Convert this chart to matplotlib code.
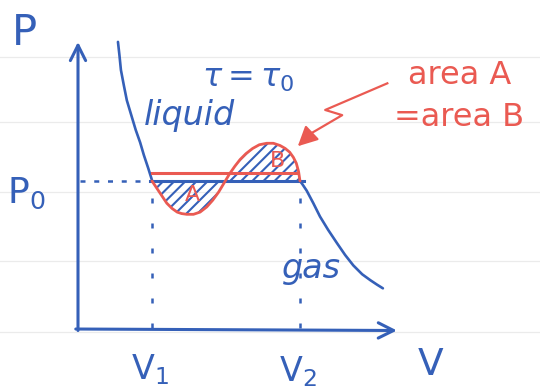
import matplotlib
matplotlib.use("Agg")
import matplotlib.pyplot as plt

BLUE = "#3560b8"
RED = "#ea5a52"
RULE = "#ebebeb"

# reference levels of the sketch (arbitrary units)
V1, V2 = 1.0, 3.0
P0 = 2.0
P_red_line = 2.11

# liquid branch (blue, steep)
V_liq = [0.54, 0.56, 0.58, 0.62, 0.66, 0.72, 0.78, 0.84, 0.89, 0.95, 1.00]
P_liq = [3.88, 3.70, 3.50, 3.29, 3.09, 2.89, 2.69, 2.52, 2.35, 2.17, 2.01]

# van der Waals loop (red)
V_loop = [1.00, 1.04, 1.08, 1.14, 1.20, 1.27, 1.34, 1.40, 1.47, 1.56, 1.65,
          1.74, 1.82, 1.90, 1.96, 2.05, 2.12, 2.19, 2.27, 2.36, 2.45, 2.55,
          2.64, 2.73, 2.80, 2.86, 2.91, 2.95, 2.98, 3.00]
P_loop = [2.00, 1.94, 1.88, 1.79, 1.70, 1.63, 1.58, 1.56, 1.55, 1.55, 1.58,
          1.65, 1.74, 1.85, 1.95, 2.10, 2.20, 2.29, 2.37, 2.44, 2.49, 2.51,
          2.51, 2.48, 2.44, 2.39, 2.32, 2.24, 2.13, 2.00]

# gas branch (blue)
V_gas = [3.00, 3.03, 3.09, 3.18, 3.27, 3.38, 3.50, 3.61, 3.72, 3.84, 3.95, 4.04, 4.12]
P_gas = [2.00, 1.96, 1.87, 1.70, 1.52, 1.34, 1.16, 1.00, 0.86, 0.74, 0.66, 0.60, 0.55]

# zig-zag pointer from the note to area B
V_ptr = [4.18, 3.34, 3.57, 3.16]
P_ptr = [3.32, 2.96, 2.89, 2.65]
ptr_tip = (2.97, 2.47)

# notebook ruling
P_rules = [3.68, 2.80, 1.85, 0.92, -0.04]

fig = plt.figure(figsize=(5.4, 3.92), dpi=100)
ax = fig.add_axes([0, 0, 1, 1])
ax.set_xlim(-1.054, 6.243)
ax.set_ylim(-0.851, 4.446)
ax.axis("off")

for p in P_rules:
    ax.axhline(p, color=RULE, lw=0.9, zorder=0)

# axes with open arrow heads
arrow = dict(arrowstyle="->,head_length=1.1,head_width=0.55", color=BLUE,
             lw=2.2, shrinkA=0, shrinkB=0)
ax.annotate("", xy=(0, 3.88), xytext=(0, -0.02), arrowprops=arrow)
ax.annotate("", xy=(4.31, -0.02), xytext=(-0.03, 0), arrowprops=arrow)

# guide lines
ax.plot([0.03, V1], [P0, P0], color=BLUE, lw=1.8, ls=(0, (2, 3.5)))
for v in (V1, V2):
    ax.plot([v, v], [0.02, 1.95], color=BLUE, lw=1.8, ls=(0, (2, 8)))

# equal-area hatching
plt.rcParams["hatch.linewidth"] = 1.5
ax.fill_between(V_loop, P_loop, P0, interpolate=True, facecolor="none",
                edgecolor=BLUE, hatch="///", lw=0, zorder=1)

# isotherm
ax.plot(V_liq, P_liq, color=BLUE, lw=1.9, solid_capstyle="round")
ax.plot(V_gas, P_gas, color=BLUE, lw=1.9, solid_capstyle="round")
ax.plot([V1 - 0.03, V2 + 0.05], [P0, P0], color=BLUE, lw=2.2)
ax.plot([V1, V2 - 0.03], [P_red_line, P_red_line], color=RED, lw=2.2)
ax.plot(V_loop, P_loop, color=RED, lw=2.0, solid_capstyle="round")

# pointer
ax.plot(V_ptr, P_ptr, color=RED, lw=1.6)
ax.annotate("", xy=ptr_tip, xytext=(V_ptr[-1], P_ptr[-1]),
            arrowprops=dict(arrowstyle="-|>,head_length=1.2,head_width=0.6",
                            color=RED, lw=1.6, shrinkA=0, shrinkB=0))

# labels
fs = dict(color=BLUE, ha="center", va="center")
ax.text(-0.72, 4.0, "P", fontsize=30, **fs)
ax.text(-0.70, 1.84, r"$\mathregular{P_0}$", fontsize=26, **fs)
ax.text(0.97, -0.55, r"$\mathregular{V_1}$", fontsize=24, **fs)
ax.text(2.97, -0.57, r"$\mathregular{V_2}$", fontsize=24, **fs)
ax.text(4.76, -0.49, "V", fontsize=27, **fs)
ax.text(2.30, 3.39, r"$\tau=\tau_0$", fontsize=23, **fs)
ax.text(1.51, 2.89, "liquid", fontsize=24, style="italic", **fs)
ax.text(3.16, 0.82, "gas", fontsize=24, style="italic", **fs)

ax.text(1.54, 1.81, "A", fontsize=16, color=RED, ha="center", va="center")
ax.text(2.70, 2.27, "B", fontsize=16, color=RED, ha="center", va="center")
ax.text(5.16, 3.43, "area A", fontsize=23, color=RED, ha="center", va="center")
ax.text(5.15, 2.86, "=area B", fontsize=23, color=RED, ha="center", va="center")

fig.savefig("out.png", dpi=100)
